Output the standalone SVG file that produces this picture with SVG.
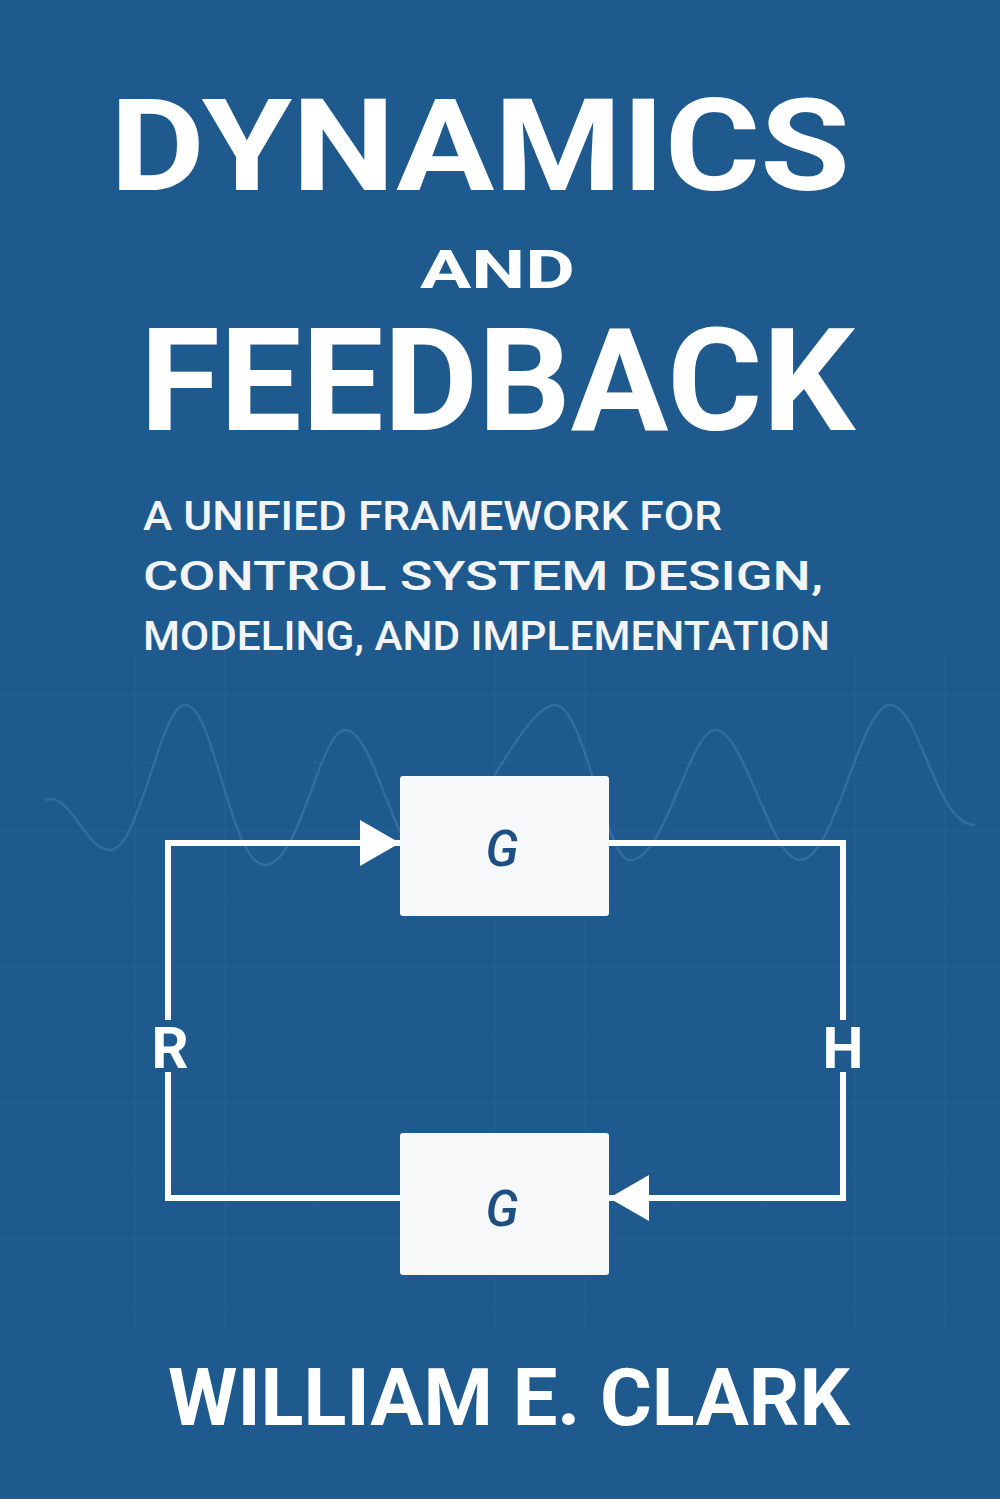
<svg xmlns="http://www.w3.org/2000/svg" width="1000" height="1499" viewBox="0 0 1000 1499">
<defs>
<style>
.t{fill:#fff;font-family:Roboto,"Liberation Sans",sans-serif;font-weight:700}
.s{fill:#f2f4f7;font-family:Roboto,"Liberation Sans",sans-serif;font-weight:500;font-size:40px}
.grid line{stroke:#3a74a8;stroke-width:1;opacity:0.3}
.box{fill:#f7f8fa}
.lbl{fill:#1d4f82;font-family:Roboto,"Liberation Sans",sans-serif;font-style:italic;font-weight:500;font-size:50px;text-anchor:middle}
.wire{fill:none;stroke:#fff;stroke-width:6}
</style>
<marker id="ah" markerWidth="40" markerHeight="46" refX="40" refY="23" markerUnits="userSpaceOnUse" orient="auto"><path d="M0,0 L40,23 L0,46 Z" fill="#fff"/></marker>
</defs>
<rect width="1000" height="1499" fill="#1e5a8e"/>
<g class="grid">
<line x1="0" y1="695" x2="1000" y2="695"/><line x1="0" y1="763" x2="1000" y2="763"/><line x1="0" y1="831" x2="1000" y2="831"/><line x1="0" y1="899" x2="1000" y2="899"/><line x1="0" y1="967" x2="1000" y2="967"/><line x1="0" y1="1035" x2="1000" y2="1035"/><line x1="0" y1="1103" x2="1000" y2="1103"/><line x1="0" y1="1171" x2="1000" y2="1171"/><line x1="0" y1="1239" x2="1000" y2="1239"/><line x1="0" y1="1307" x2="1000" y2="1307"/>
<line x1="45" y1="650" x2="45" y2="1330"/><line x1="135" y1="650" x2="135" y2="1330"/><line x1="225" y1="650" x2="225" y2="1330"/><line x1="315" y1="650" x2="315" y2="1330"/><line x1="405" y1="650" x2="405" y2="1330"/><line x1="495" y1="650" x2="495" y2="1330"/><line x1="585" y1="650" x2="585" y2="1330"/><line x1="675" y1="650" x2="675" y2="1330"/><line x1="765" y1="650" x2="765" y2="1330"/><line x1="855" y1="650" x2="855" y2="1330"/><line x1="945" y1="650" x2="945" y2="1330"/>
</g>
<path d="M45,800 C70,790 85,850 110,850 C140,850 160,705 185,705 C215,705 230,865 265,865 C300,865 320,730 345,730 C375,730 395,860 425,860 C460,860 520,705 555,705 C585,705 605,860 630,860 C665,860 690,730 715,730 C745,730 770,860 800,860 C835,860 860,705 890,705 C920,705 935,825 975,825" fill="none" stroke="#4a86bb" stroke-width="2.5" opacity="0.45"/>
<text class="t" x="110" y="190" font-size="128" textLength="740" lengthAdjust="spacingAndGlyphs">DYNAMICS</text>
<text class="t" x="420" y="288" font-size="54" textLength="155" lengthAdjust="spacingAndGlyphs">AND</text>
<text class="t" x="140" y="430" font-size="142" textLength="715" lengthAdjust="spacingAndGlyphs">FEEDBACK</text>
<text class="s" x="143" y="530" textLength="579" lengthAdjust="spacingAndGlyphs">A UNIFIED FRAMEWORK FOR</text>
<text class="s" x="143" y="590" textLength="680" lengthAdjust="spacingAndGlyphs">CONTROL SYSTEM DESIGN,</text>
<text class="s" x="143" y="650" textLength="687" lengthAdjust="spacingAndGlyphs">MODELING, AND IMPLEMENTATION</text>
<g id="connectors">
<path class="wire" d="M168,1020 V843 H400" marker-end="url(#ah)"/>
<path class="wire" d="M609,843 H843 V1020"/>
<path class="wire" d="M843,1072 V1198 H609" marker-end="url(#ah)"/>
<path class="wire" d="M400,1198 H168 V1072"/>
</g>
<g id="R"><text class="t" x="170" y="1068" font-size="58" text-anchor="middle" font-weight="500">R</text></g>
<g id="H"><text class="t" x="843" y="1068" font-size="58" text-anchor="middle" font-weight="500">H</text></g>
<g id="G1"><rect class="box" x="400" y="776" width="209" height="140" rx="3"/><text class="lbl" x="502" y="866">G</text></g>
<g id="G2"><rect class="box" x="400" y="1133" width="209" height="142" rx="3"/><text class="lbl" x="502" y="1226">G</text></g>
<text class="t" x="168" y="1425" font-size="80" textLength="682" lengthAdjust="spacingAndGlyphs">WILLIAM E. CLARK</text>
</svg>
